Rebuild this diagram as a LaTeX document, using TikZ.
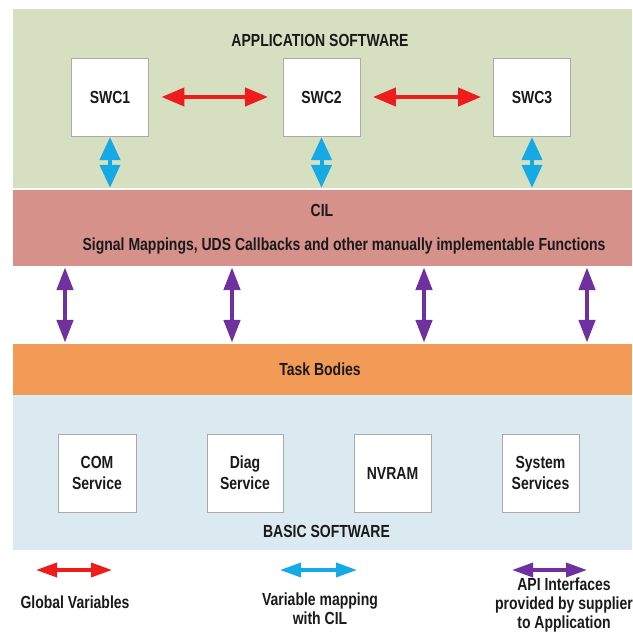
\documentclass[tikz,border=0pt]{standalone}
\usepackage{fontspec}
\setmainfont{Liberation Sans}
\newfontfamily\narrowsans[FakeStretch=0.8]{Liberation Sans}
\usetikzlibrary{arrows.meta}
\definecolor{appgreen}{HTML}{D6E0C0}
\definecolor{cilred}{HTML}{D6918A}
\definecolor{taskorange}{HTML}{F29B56}
\definecolor{bswblue}{HTML}{DBEAF0}
\definecolor{arrred}{HTML}{EE1C1C}
\definecolor{arrblue}{HTML}{15AAE6}
\definecolor{arrpurple}{HTML}{7030A0}
\definecolor{boxgrey}{HTML}{AAAAAA}
\definecolor{txt}{HTML}{1A1A1A}
\tikzset{
  band/.style={draw=none, inner sep=0pt, minimum width=619pt},
  box/.style={draw=boxgrey, line width=0.8pt, fill=white, minimum width=77pt, minimum height=78pt,
    inner sep=0pt, align=center, text=txt, font=\narrowsans\bfseries\fontsize{17.5}{21}\selectfont},
  lbl/.style={inner sep=0pt, align=center, text=txt, font=\narrowsans\bfseries\fontsize{17.5}{20}\selectfont},
  redarr/.style={draw=arrred, line width=4pt, {Triangle[length=23pt,width=18pt]}-{Triangle[length=23pt,width=18pt]}},
  bluearr/.style={draw=arrblue, line width=4pt, {Triangle[length=23pt,width=20pt]}-{Triangle[length=23pt,width=20pt]}},
  purarr/.style={draw=arrpurple, line width=4.5pt, {Triangle[length=23pt,width=16pt]}-{Triangle[length=23pt,width=16pt]}},
  legred/.style={draw=arrred, line width=3.5pt, {Triangle[length=21pt,width=14pt]}-{Triangle[length=21pt,width=14pt]}},
  legblue/.style={draw=arrblue, line width=3.5pt, {Triangle[length=21pt,width=14pt]}-{Triangle[length=21pt,width=14pt]}},
  legpur/.style={draw=arrpurple, line width=3.5pt, {Triangle[length=21pt,width=14pt]}-{Triangle[length=21pt,width=14pt]}},
}
\begin{document}
\begin{tikzpicture}[x=1pt,y=-1pt]
\useasboundingbox (0,0) rectangle (632,634);
% layer bands
\node[band, fill=appgreen, minimum height=179pt] (app) at (322.5,98.5) {};
\node[band, fill=cilred, minimum height=76pt] (cil) at (322.5,228) {};
\node[band, fill=taskorange, minimum height=51pt] (task) at (322.5,369.5) {};
\node[band, fill=bswblue, minimum height=155pt] (bsw) at (322.5,472.5) {};
% band labels
\node[lbl] (applbl) at (320,40) {APPLICATION SOFTWARE};
\node[lbl] (cillbl) at (322,210) {CIL};
\node[lbl] (cildesc) at (344,246) {Signal Mappings, UDS Callbacks and other manually implementable Functions};
\node[lbl] (tasklbl) at (320,369) {Task Bodies};
\node[lbl] (bswlbl) at (326.5,531) {BASIC SOFTWARE};
% application software components
\node[box] (swc1) at (110,97) {SWC1};
\node[box] (swc2) at (321.5,97) {SWC2};
\node[box] (swc3) at (532,97) {SWC3};
% basic software modules
\node[box, minimum width=78pt] (com) at (97,473) {COM\\Service};
\node[box, minimum width=76pt] (diag) at (245,473) {Diag\\Service};
\node[box] (nvram) at (392.5,473) {NVRAM};
\node[box] (sys) at (540.5,473) {System\\Services};
% global variables
\draw[redarr, shorten <=12.5pt, shorten >=14.5pt] (swc1.east) -- (swc2.west);
\draw[redarr, shorten <=12.5pt, shorten >=12pt] (swc2.east) -- (swc3.west);
% variable mapping with CIL
\draw[bluearr, shorten <=0.6pt, shorten >=2pt] (swc1.south) -- (cil.north -| swc1.south);
\draw[bluearr, shorten <=0.6pt, shorten >=2pt] (swc2.south) -- (cil.north -| swc2.south);
\draw[bluearr, shorten <=0.6pt, shorten >=2pt] (swc3.south) -- (cil.north -| swc3.south);
% API interfaces
\coordinate (p1) at (65,300);
\coordinate (p2) at (232,300);
\coordinate (p3) at (424,300);
\coordinate (p4) at (587,300);
\foreach \p in {p1,p2,p3,p4}{
  \draw[purarr, shorten <=1pt, shorten >=1pt] (cil.south -| \p) -- (task.north -| \p);
}
% legend
\coordinate (lra) at (36,570);
\coordinate (lrb) at (112,570);
\coordinate (lba) at (280,570);
\coordinate (lbb) at (357,570);
\coordinate (lpa) at (512,570);
\coordinate (lpb) at (587,570);
\draw[legred] (lra) -- (lrb);
\draw[legblue] (lba) -- (lbb);
\draw[legpur] (lpa) -- (lpb);
\node[lbl] (lgtxt1) at (75,602) {Global Variables};
\node[lbl, font=\narrowsans\bfseries\fontsize{17.5}{19}\selectfont] (lgtxt2) at (320,609) {Variable mapping\\with CIL};
\node[lbl, font=\narrowsans\bfseries\fontsize{17.5}{19}\selectfont] (lgtxt3) at (564,605) {API Interfaces\\provided by supplier\\to Application};
\end{tikzpicture}
\end{document}
